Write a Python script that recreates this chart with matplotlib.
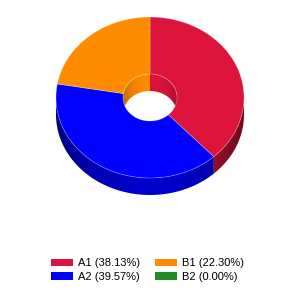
import numpy as np
import matplotlib
matplotlib.use('Agg')
import matplotlib.pyplot as plt
from matplotlib.patches import Rectangle, Polygon
from matplotlib.colors import to_rgb

labels = ['A1', 'A2', 'B1', 'B2']
values = [38.13, 39.57, 22.30, 0.00]
colors = ['#dc143c', '#0000ff', '#ff8c00', '#228b22']

# geometry of the 3d donut, in pixels
cx, cy = 150, 97.5
rx, ry = 94, 80.5
hrx, hry = 27, 23.5
depth = 17

def pt(a, rxx, ryy, dy=0):
    t = np.radians(a)
    return cx + rxx * np.cos(t), cy - ryy * np.sin(t) + dy

def wall(ax, a1, a0, rxx, ryy, c, front, z):
    # side band between a1 and a0, shaded along x with a clipped image
    angs = np.linspace(a1, a0, 200)
    s = np.sin(np.radians(angs))
    keep = s <= 0.001 if front else s >= -0.001
    if keep.sum() < 2:
        return
    angs = angs[keep]
    top = [pt(a, rxx, ryy) for a in angs]
    bot = [pt(a, rxx, ryy, depth) for a in angs[::-1]]
    poly = Polygon(top + bot, closed=True, facecolor='none', edgecolor='none')
    ax.add_patch(poly)
    xs = np.linspace(cx - rxx, cx + rxx, 400)
    u = np.clip((xs - cx) / rxx, -1, 1)
    if front:
        f = 0.5 + 0.3 * (1 - u ** 2)
    else:
        f = 0.68 + 0.32 * np.sqrt(1 - u ** 2)
    rgb = np.array(to_rgb(c))
    img = (f[:, None] * rgb[None, :])[None, :, :]
    ys = [p[1] for p in top + bot]
    im = ax.imshow(img, extent=(cx - rxx, cx + rxx, max(ys) + 1, min(ys) - 1),
                   aspect='auto', interpolation='bilinear', zorder=z)
    im.set_clip_path(poly)

fig = plt.figure(figsize=(3, 3), dpi=100)
ax = fig.add_axes([0, 0, 1, 1])

total = sum(values)
slices = []
cum = 0
for lab, v, c in zip(labels, values, colors):
    if v > 0:
        a0 = 90 - cum / total * 360
        a1 = 90 - (cum + v) / total * 360
        slices.append((a1, a0, c))
    cum += v

for a1, a0, c in slices:
    wall(ax, a1, a0, rx, ry, c, True, 1)
    wall(ax, a1, a0, hrx, hry, c, False, 2)

# top surface
for a1, a0, c in slices:
    angs = np.linspace(a0, a1, 200)
    outer = [pt(a, rx, ry) for a in angs]
    inner = [pt(a, hrx, hry) for a in angs[::-1]]
    xs, ys = zip(*(outer + inner))
    ax.fill(xs, ys, facecolor=c, edgecolor=(1, 1, 1, 0.3), lw=0.6, zorder=3)

ax.set_xlim(0, 300)
ax.set_ylim(300, 0)
ax.axis('off')

handles = [Rectangle((0, 0), 1, 1, facecolor=c, edgecolor='none') for c in colors]
texts = ['%s (%.2f%%)' % (l, v / total * 100) for l, v in zip(labels, values)]
fig.legend(handles, texts, loc='center', bbox_to_anchor=(147.5 / 300, 1 - 270 / 300),
           ncol=2, frameon=False, prop={'family': 'Liberation Sans', 'size': 8},
           handlelength=2.0, handleheight=0.7, handletextpad=0.45,
           columnspacing=1.35, labelspacing=0.3, borderpad=0)

fig.savefig('out.png', dpi=100, facecolor='white')
